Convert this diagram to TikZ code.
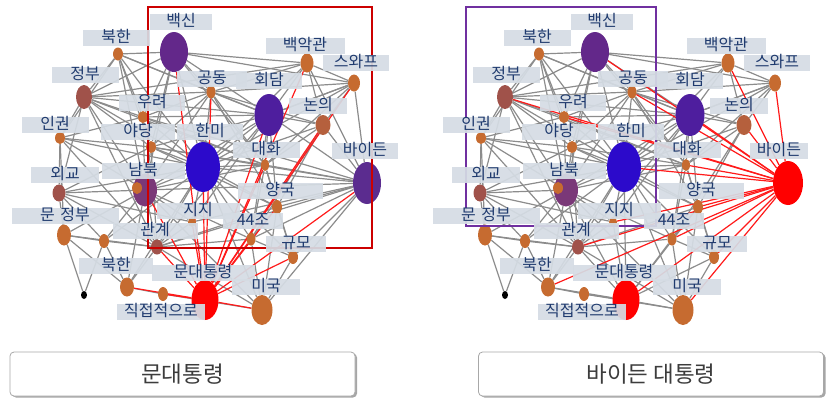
\documentclass[tikz,border=0pt]{standalone}
\usepackage{fontspec}
\newfontfamily\kr{Noto Sans CJK KR}
\usetikzlibrary{shapes.geometric,shadows}
\definecolor{cOr}{HTML}{C66B30}
\definecolor{cBr}{HTML}{A0524A}
\definecolor{cNy}{HTML}{B5603D}
\definecolor{cPbs}{HTML}{63288A}
\definecolor{cPbd}{HTML}{5B2C8F}
\definecolor{cPhd}{HTML}{4E1E9E}
\definecolor{cPnb}{HTML}{7A3878}
\definecolor{cBlue}{HTML}{2C0ACB}
\definecolor{cLab}{HTML}{D5DCE4}
\definecolor{cTxt}{HTML}{1F3A6E}
\definecolor{cGray}{HTML}{8C8C8C}
\definecolor{cRed}{HTML}{FF1A1A}
\definecolor{cRect}{HTML}{CC0000}
\definecolor{cPur}{HTML}{7030A0}
\definecolor{cBtn}{HTML}{A8A8A8}
\definecolor{cBtnTxt}{HTML}{3C3C3C}
\pgfdeclarelayer{edges}\pgfdeclarelayer{over}
\pgfsetlayers{edges,main,over}
\tikzset{
  nd/.style={ellipse, inner sep=0pt, draw=none},
  ge/.style={draw=cGray, line width=1.2pt},
  re/.style={draw=cRed, line width=1.2pt},
  lab/.style={fill=cLab, fill opacity=0.93, text opacity=1, text=cTxt,
    font=\kr\fontsize{16}{17}\selectfont, minimum height=16.5pt, inner sep=0pt,
    text height=11.5pt, text depth=2.5pt},
  frame/.style={line width=2.5pt},
  btn/.style={draw=cBtn, fill=white, rounded corners=4pt, line width=0.8pt,
    text=cBtnTxt, font=\kr\fontsize{22.5}{24}\selectfont, minimum height=44pt,
    drop shadow={shadow xshift=2pt, shadow yshift=-1.5pt, fill=black, opacity=0.35}}
}
\newcommand\blob[6]{\node[nd, fill=#6, minimum width=#4pt, minimum height=#5pt] (\P#1) at (#2,#3) {};}
\newcommand\lbl[5]{\node[lab, minimum width=#4pt] (\P l#1) at (#2,#3) {#5};}
\newcommand\drawnodes{%
\blob{bk1}{118}{54}{10}{13}{cOr}
\blob{bs}{174}{52}{28}{40}{cPbs}
\blob{jb}{84}{97}{16}{24}{cBr}
\blob{wr}{143}{117}{10}{12}{cOr}
\blob{ig}{60}{138}{10}{12}{cOr}
\blob{yd}{151}{147}{10}{12}{cOr}
\blob{hm}{203}{167}{34}{50}{cBlue}
\blob{nb}{145}{190}{24}{33}{cPnb}
\blob{nbo}{137}{188}{10}{12}{cOr}
\blob{jj}{192}{222}{8}{10}{cOr}
\blob{gg}{157}{247}{12}{15}{cBr}
\blob{s44}{251}{239}{9}{13}{cOr}
\blob{yg}{277}{207}{10}{14}{cOr}
\blob{gm}{293}{257}{10}{14}{cOr}
\blob{dh}{265}{165}{8}{12}{cOr}
\blob{md}{205}{300}{27}{40}{red}
\blob{mg}{262}{310}{21}{30}{cOr}
\blob{jc}{163}{294}{10}{14}{cOr}
\blob{bk2}{127}{287}{14}{19}{cOr}
\blob{blk}{84}{295}{6}{8}{black}
\blob{mj}{64}{235}{14}{21}{cOr}
\blob{x1}{104}{241}{10}{14}{cOr}
\blob{wg}{59}{193}{13}{17}{cBr}
\blob{gd}{211}{92}{9}{13}{cOr}
\blob{hd}{269}{115}{29}{42}{cPhd}
\blob{bw}{307}{63}{13}{19}{cOr}
\blob{sw}{354}{83}{12}{17}{cOr}
\blob{ny}{323}{125}{15}{20}{cNy}
\blob{bd}{367}{183}{\bdw}{\bdh}{\bdcol}
}
\newcommand\drawlabels{%
\lbl{bk1}{116}{38}{67}{북한}
\lbl{bs}{181}{22}{62}{백신}
\lbl{jb}{85}{75}{67}{정부}
\lbl{bw}{305}{46}{79}{백악관}
\lbl{sw}{356}{63}{66}{스와프}
\lbl{gd}{212}{79}{70}{공동}
\lbl{hd}{269}{81}{66}{회담}
\lbl{wr}{152}{103}{66}{우려}
\lbl{ny}{318}{106}{58}{논의}
\lbl{ig}{55}{125}{67}{인권}
\lbl{yd}{138}{132}{74}{야당}
\lbl{hm}{210}{132}{66}{한미}
\lbl{dh}{266}{150}{67}{대화}
\lbl{bd}{\bdlx}{151}{\bdlw}{바이든}
\lbl{nb}{143}{171}{83}{남북}
\lbl{wg}{65}{175}{68}{외교}
\lbl{yg}{280}{191}{85}{양국}
\lbl{jj}{198}{211}{83}{지지}
\lbl{mj}{65}{216}{107}{문\hspace{0.35em}정부}
\lbl{s44}{253}{221}{60}{44조}
\lbl{gg}{155}{231}{85}{관계}
\lbl{gm}{296}{244}{60}{규모}
\lbl{bk2}{116}{266}{74}{북한}
\lbl{md}{203}{273}{103}{문대통령}
\lbl{mg}{266}{287}{68}{미국}
\lbl{jc}{161}{312}{88}{직접적으로}
}
\newcommand\commonedges{%
\foreach \a/\b in {bk1/jb, bk1/bs, bk1/wr, bk1/yd, bk1/hm, bk1/nb, bk1/hd, bk1/gd, bk1/ig,
 bs/bw, bs/sw, bs/gd, bs/hd, bs/hm, bs/wr, bs/yd, bs/jb, bs/nb, bs/dh,
 jb/wr, jb/yd, jb/hm, jb/gd, jb/hd, jb/nb, jb/ig, jb/wg, jb/dh, jb/gg, jb/bw,
 ig/yd, ig/hm, ig/nb, ig/wg, ig/mj, ig/gg, ig/wr,
 wg/nb, wg/hm, wg/yd, wg/mj, wg/x1, wg/gg, wg/jj,
 mj/x1, mj/bk2, mj/nb, mj/gg, mj/blk,
 x1/gg, x1/nb, x1/bk2, x1/hm, blk/x1,
 bk2/nb, bk2/gg, bk2/hm, bk2/jc,
 wr/gd, wr/hd, wr/hm, wr/yd, wr/nb, wr/dh,
 yd/hm, yd/nb, yd/gd, yd/hd, yd/dh, yd/gg, yd/yg,
 gd/hd, gd/hm, gd/bw, gd/sw, gd/ny, gd/dh, gd/nb, gd/yg,
 hd/hm, hd/bw, hd/sw, hd/ny, hd/dh, hd/yg, hd/s44, hd/nb, hd/gg, hd/jj,
 bw/sw, bw/ny, bw/hm, sw/ny, sw/hd, sw/dh, sw/hm,
 ny/dh, ny/hm, ny/yg, ny/s44,
 hm/dh, hm/yg, hm/s44, hm/gm, hm/nb, hm/gg, hm/jj, hm/mg,
 dh/yg, dh/s44, dh/gm, dh/nb, yg/s44, yg/gm, yg/mg, yg/gg,
 s44/gm, s44/mg, s44/gg, gm/mg, nb/gg, nb/jj, nb/s44, nb/mg,
 gg/jj, gg/mg, jc/mg}
 {\draw[ge] (\P\a) -- (\P\b);}%
}
\begin{document}
\begin{tikzpicture}[x=1pt,y=-1pt]
\useasboundingbox (0,0) rectangle (826,397);
% nodes
\begin{scope}
 \def\P{L}\def\bdcol{cPbd}\def\bdw{28}\def\bdh{42}
 \drawnodes
\end{scope}
\begin{scope}[xshift=421pt]
 \def\P{R}\def\bdcol{red}\def\bdw{30}\def\bdh{44}
 \drawnodes
\end{scope}
% edges
\begin{pgfonlayer}{edges}
 \def\P{L}
 \commonedges
 \foreach \b in {hd, ny, sw, bw, dh, yg, s44, gm, hm, nb, gg, jj, mg, wr, yd}
   {\draw[ge] (Lbd) -- (L\b);}
 \foreach \b in {bs, bw, sw, ny, hd, bd, dh, yg, s44, gm, mg, hm, jj, gg, nb, gd, bk2, jc}
   {\draw[re] (Lmd) -- (L\b);}
 \def\P{R}
 \commonedges
 \foreach \b in {mg, nb, gg, jj, hm, s44, bk2, jc, gm, yg}
   {\draw[ge] (Rmd) -- (R\b);}
 \foreach \b in {bs, jb, gd, hd, bw, sw, ny, dh, yg, s44, gm, mg, md, hm, jj, gg, wr, bk2}
   {\draw[re] (Rbd) -- (R\b);}
\end{pgfonlayer}
% frames and labels
\begin{pgfonlayer}{over}
 \draw[frame, draw=cRect] (148,7) rectangle (372,248);
 \draw[frame, draw=cPur] (466,7) rectangle (656,226);
 \begin{scope}
  \def\P{L}\def\bdlx{365}\def\bdlw{66}
  \drawlabels
 \end{scope}
 \begin{scope}[xshift=421pt]
  \def\P{R}\def\bdlx{358}\def\bdlw{58}
  \drawlabels
 \end{scope}
\end{pgfonlayer}
% buttons
\node[btn, minimum width=345pt] (btnL) at (182.5,374) {문대통령};
\node[btn, minimum width=345pt] (btnR) at (651,374) {바이든 대통령};
\end{tikzpicture}
\end{document}
